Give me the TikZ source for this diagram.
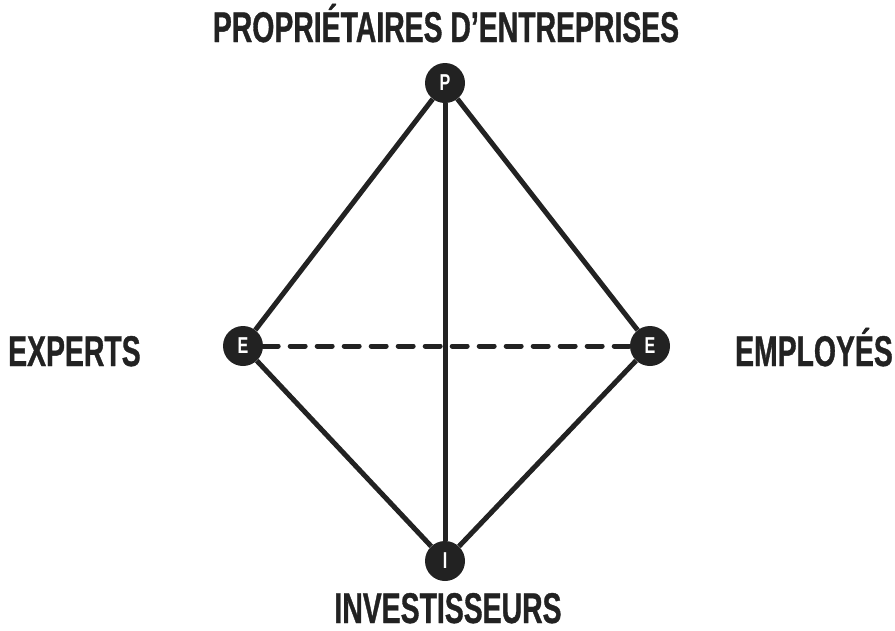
\documentclass[tikz,border=0pt]{standalone}
\usepackage{fontspec}
\usepackage{tikz}
\newfontfamily\labfont[FakeStretch=0.66,FakeBold=0.8]{Liberation Sans}
\newfontfamily\dotfont[FakeStretch=0.7]{Liberation Sans}
\definecolor{ink}{HTML}{222222}

\tikzset{
    corner/.style={circle,fill=ink,text=white,minimum size=40pt,inner sep=0pt,
        font=\dotfont\bfseries\fontsize{23}{23}\selectfont},
    side/.style={line width=5pt,ink},
    label/.style={text=ink,inner sep=0pt,font=\labfont\bfseries\fontsize{43}{43}\selectfont}
}

\begin{document}
\begin{tikzpicture}[x=1pt,y=-1pt]
    \useasboundingbox (0,0) rectangle (895,630);
    \node [corner] (P) at (445, 83) {P};
    \node [corner] (EX) at (243, 346) {E};
    \node [corner] (EM) at (650, 346) {E};
    \node [corner] (I) at (445, 561) {I};
    \draw [side] (P) -- (EX);
    \draw [side] (P) -- (EM);
    \draw [side] (P) -- (I);
    \draw [side] (EX) -- (I);
    \draw [side] (EM) -- (I);
    \draw [side,line cap=round,dash pattern=on 15pt off 12pt] (EX) -- (EM);
    \node [label,anchor=base] (top) at (446, 42) {PROPRIÉTAIRES D’ENTREPRISES};
    \node [label,anchor=base west] (left) at (8, 366) {EXPERTS};
    \node [label,anchor=base east] (right) at (893, 366) {EMPLOYÉS};
    \node [label,anchor=base] (bottom) at (448, 623) {INVESTISSEURS};
\end{tikzpicture}
\end{document}
